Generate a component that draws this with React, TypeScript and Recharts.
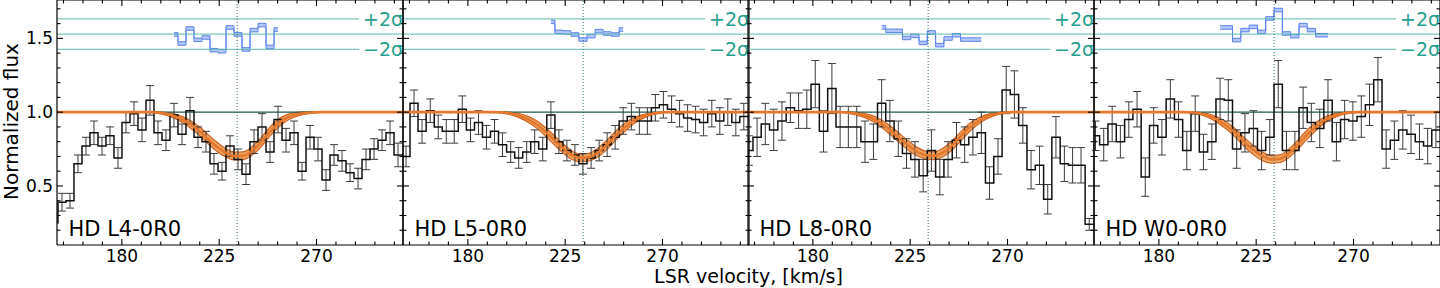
import React from 'react';
import { ComposedChart, Line, Area, XAxis, YAxis, ReferenceLine, ErrorBar } from 'recharts';

const FONT = '"DejaVu Sans", sans-serif';
const PLOT_W = 346;
const X_DOMAIN: [number, number] = [150, 310];
const Y_DOMAIN: [number, number] = [0.1, 1.76];

const X_TICKS = [153, 162, 171, 180, 189, 198, 207, 216, 225, 234, 243, 252, 261, 270, 279, 288, 297, 306];
const MAJOR_X = [180, 225, 270];
const Y_TICKS = [0.2, 0.3, 0.4, 0.5, 0.6, 0.7, 0.8, 0.9, 1.0, 1.1, 1.2, 1.3, 1.4, 1.5, 1.6, 1.7];
const MAJOR_Y = [0.5, 1.0, 1.5];

const LINE_CENTER = 233.3;
const CONT_V = [145, 315];
const SIGMA_MID = 1.529;
const SIGMA_HI = 1.632;
const SIGMA_LO = 1.426;
const SIGMA_END = 289.7;
const RES_HALF = 0.012;

// histogram bins (km/s), flux and 1-sigma errors, one set per sightline
const VEL_L4 = [148.6, 152.3, 156.0, 159.7, 163.4, 167.1, 170.8, 174.5, 178.2, 181.9, 185.6, 189.3, 193.0, 196.7, 200.4,
  204.1, 207.8, 211.5, 215.2, 218.9, 222.6, 226.3, 230.0, 233.7, 237.4, 241.1, 244.8, 248.5, 252.2, 255.9,
  259.6, 263.3, 267.0, 270.7, 274.4, 278.1, 281.8, 285.5, 289.2, 292.9, 296.6, 300.3, 304.0, 307.7, 311.4];
const FLUX_L4 = [0.25, 0.39, 0.40, 0.65, 0.77, 0.86, 0.77, 0.84, 0.69, 0.93, 0.99, 0.88, 1.08, 0.86, 0.81,
  0.98, 0.85, 1.01, 0.83, 0.80, 0.65, 0.60, 0.77, 0.68, 0.58, 0.80, 0.90, 0.73, 0.95, 0.81,
  0.86, 0.60, 0.83, 0.75, 0.54, 0.71, 0.67, 0.59, 0.55, 0.68, 0.75, 0.81, 0.86, 0.71, 0.71];
const ERR_L4 = [null, 0.06, 0.05, 0.06, 0.06, 0.08, 0.06, 0.06, 0.07, 0.07, 0.08, 0.08, 0.10, 0.08, 0.07,
  0.08, 0.07, 0.09, 0.07, 0.07, 0.07, 0.06, 0.07, 0.07, 0.07, 0.08, 0.09, 0.07, 0.09, 0.08,
  0.08, 0.06, 0.08, 0.08, 0.07, 0.07, 0.07, 0.06, 0.07, 0.07, 0.07, 0.07, 0.08, 0.08, null];

const VEL_L5 = [147.7, 151.4, 155.1, 158.8, 162.6, 166.3, 170.0, 173.7, 177.4, 181.2, 184.9, 188.6, 192.3, 196.0, 199.8,
  203.5, 207.2, 210.9, 214.6, 218.4, 222.1, 225.8, 229.5, 233.2, 237.0, 240.7, 244.4, 248.1, 251.8, 255.6,
  259.3, 263.0, 266.7, 270.4, 274.2, 277.9, 281.6, 285.3, 289.0, 292.8, 296.5, 300.2, 303.9, 307.6, 311.3];
const FLUX_L5 = [0.70, 0.70, 1.06, 0.87, 1.01, 0.90, 0.87, 0.87, 1.02, 0.88, 0.93, 0.83, 0.87, 0.78, 0.73,
  0.69, 0.73, 0.80, 0.75, 0.98, 0.80, 0.74, 0.71, 0.65, 0.69, 0.74, 0.78, 0.83, 0.94, 0.97,
  0.94, 0.94, 1.03, 1.05, 1.02, 0.99, 0.96, 0.95, 0.93, 0.99, 0.94, 1.00, 0.93, 0.97, 0.97];
const ERR_L5 = [null, 0.07, 0.09, 0.08, 0.08, 0.08, 0.08, 0.08, 0.09, 0.08, 0.08, 0.08, 0.08, 0.08, 0.07,
  0.07, 0.07, 0.08, 0.08, 0.09, 0.08, 0.07, 0.07, 0.07, 0.07, 0.07, 0.08, 0.08, 0.09, 0.09,
  0.09, 0.09, 0.09, 0.09, 0.09, 0.09, 0.09, 0.09, 0.09, 0.09, 0.09, 0.09, 0.09, 0.09, null];

const VEL_L8 = [146.5, 150.4, 154.2, 158.0, 161.9, 165.7, 169.6, 173.4, 177.2, 181.1, 184.9, 188.8, 192.6, 196.4, 200.3,
  204.1, 208.0, 211.8, 215.6, 219.5, 223.3, 227.2, 231.0, 234.8, 238.7, 242.5, 246.4, 250.2, 254.0, 257.9,
  261.7, 265.6, 269.4, 273.2, 277.1, 280.9, 284.8, 288.6, 292.4, 296.3, 300.1, 304.0, 307.8, 311.6];
const FLUX_L8 = [0.74, 0.74, 0.83, 0.92, 0.88, 0.94, 1.03, 1.01, 1.02, 1.19, 0.87, 1.16, 0.90, 0.90, 0.90,
  0.80, 0.80, 1.06, 0.94, 0.82, 0.72, 0.68, 0.57, 0.74, 0.56, 0.68, 0.81, 0.78, 0.83, 0.86,
  0.52, 0.70, 1.15, 1.12, 0.91, 0.61, 0.64, 0.41, 0.83, 0.65, 0.64, 0.64, 0.24, 0.24];
const ERR_L8 = [null, 0.10, 0.13, 0.14, 0.14, 0.13, 0.10, 0.12, 0.13, 0.16, 0.14, 0.17, 0.14, 0.14, 0.14,
  0.14, 0.12, 0.16, 0.14, 0.12, 0.10, 0.12, 0.11, 0.14, 0.12, 0.12, 0.12, 0.12, 0.12, 0.14,
  0.11, 0.12, 0.16, 0.16, 0.12, 0.13, 0.13, 0.10, 0.14, 0.12, 0.12, 0.12, 0.04, null];

const VEL_W0 = [146.9, 150.7, 154.5, 158.4, 162.2, 166.1, 169.9, 173.7, 177.6, 181.4, 185.3, 189.1, 192.9, 196.8, 200.6,
  204.5, 208.3, 212.1, 216.0, 219.8, 223.7, 227.5, 231.3, 235.2, 239.0, 242.9, 246.7, 250.5, 254.4, 258.2,
  262.1, 265.9, 269.7, 273.6, 277.4, 281.3, 285.1, 288.9, 292.8, 296.6, 300.5, 304.3, 308.1, 311.9];
const FLUX_W0 = [0.84, 0.84, 0.78, 0.92, 0.80, 0.95, 1.02, 0.56, 0.91, 0.83, 1.09, 0.95, 0.74, 0.99, 0.73,
  0.80, 1.09, 1.08, 0.75, 0.86, 0.89, 0.74, 0.83, 1.19, 0.74, 0.74, 1.03, 0.93, 0.89, 1.08,
  0.80, 0.95, 0.94, 0.97, 1.05, 1.22, 0.75, 0.81, 0.88, 0.85, 0.80, 0.77, 0.88, 0.88];
const ERR_W0 = [null, 0.10, 0.11, 0.12, 0.11, 0.12, 0.12, 0.13, 0.12, 0.12, 0.13, 0.12, 0.13, 0.12, 0.12,
  0.12, 0.14, 0.14, 0.13, 0.13, 0.12, 0.13, 0.12, 0.16, 0.13, 0.13, 0.14, 0.13, 0.13, 0.14,
  0.13, 0.13, 0.13, 0.14, 0.14, 0.15, 0.13, 0.13, 0.13, 0.13, 0.12, 0.12, 0.12, null];

// absorption model and its uncertainty band
const MODEL_V = [150, 192, 196, 200, 204, 208, 212, 216, 220, 224, 228, 232, 236, 240, 244, 248, 252, 256, 260, 264, 268, 272, 276, 310];
const MODEL_L4 = [1, 1, 0.998, 0.99, 0.975, 0.95, 0.915, 0.87, 0.815, 0.765, 0.725, 0.703, 0.705, 0.735, 0.79, 0.86, 0.92, 0.96, 0.982, 0.993, 0.998, 1, 1, 1];
const MODEL_L5 = [1, 1, 0.998, 0.99, 0.975, 0.95, 0.915, 0.865, 0.81, 0.755, 0.71, 0.69, 0.695, 0.725, 0.775, 0.835, 0.89, 0.935, 0.965, 0.985, 0.995, 1, 1, 1];
const MODEL_L8 = [1, 1, 0.998, 0.99, 0.977, 0.955, 0.92, 0.875, 0.825, 0.775, 0.735, 0.71, 0.705, 0.725, 0.77, 0.83, 0.89, 0.935, 0.967, 0.986, 0.995, 1, 1, 1];
const MODEL_W0 = [1, 1, 0.997, 0.988, 0.97, 0.94, 0.9, 0.85, 0.79, 0.74, 0.7, 0.68, 0.685, 0.72, 0.775, 0.84, 0.895, 0.94, 0.97, 0.988, 0.997, 1, 1, 1];
const BAND = [0, 0, 0.004, 0.009, 0.014, 0.02, 0.025, 0.029, 0.031, 0.031, 0.029, 0.026, 0.026, 0.029, 0.031, 0.031, 0.028, 0.022, 0.015, 0.009, 0.004, 0.001, 0, 0];

// residual strip above the spectrum
const RES_V_L4 = [204.1, 207.8, 211.5, 215.2, 218.9, 222.6, 226.3, 230.0, 233.7, 237.4, 241.1, 244.8, 248.5, 252.2];
const RES_L4 = [1.527, 1.465, 1.567, 1.49, 1.506, 1.42, 1.413, 1.574, 1.527, 1.425, 1.556, 1.59, 1.442, 1.56];
const RES_V_L5 = [218.4, 222.1, 225.8, 229.5, 233.2, 237.0, 240.7, 244.4, 248.1, 251.8];
const RES_L5 = [1.612, 1.544, 1.54, 1.526, 1.492, 1.515, 1.549, 1.533, 1.526, 1.56];
const RES_V_L8 = [211.8, 215.6, 219.5, 223.3, 227.2, 231.0, 234.8, 238.7, 242.5, 246.4, 250.2, 254.0, 257.9];
const RES_L8 = [1.574, 1.551, 1.551, 1.503, 1.517, 1.469, 1.54, 1.454, 1.499, 1.521, 1.492, 1.492, 1.492];
const RES_V_W0 = [208.3, 212.1, 216.0, 219.8, 223.7, 227.5, 231.3, 235.2, 239.0, 242.9, 246.7, 250.5, 254.4, 258.2];
const RES_W0 = [1.574, 1.574, 1.488, 1.556, 1.578, 1.544, 1.635, 1.692, 1.533, 1.515, 1.59, 1.556, 1.521, 1.521];

const PANELS = [
  { name: 'HD L4-0R0', left: 57, vel: VEL_L4, flux: FLUX_L4, err: ERR_L4, model: MODEL_L4, resV: RES_V_L4, res: RES_L4 },
  { name: 'HD L5-0R0', left: 403, vel: VEL_L5, flux: FLUX_L5, err: ERR_L5, model: MODEL_L5, resV: RES_V_L5, res: RES_L5 },
  { name: 'HD L8-0R0', left: 748, vel: VEL_L8, flux: FLUX_L8, err: ERR_L8, model: MODEL_L8, resV: RES_V_L8, res: RES_L8 },
  { name: 'HD W0-0R0', left: 1094, vel: VEL_W0, flux: FLUX_W0, err: ERR_W0, model: MODEL_W0, resV: RES_V_W0, res: RES_W0 },
];

const TEAL_LINE = '#5cb8aa';
const TEAL_TEXT = '#26a08e';
const ORANGE = '#e5782c';

// inward ticks on bottom+top for an x value, drawn on a vertical reference line
function XTick({ s, v }: { s: any; v: number }) {
  const major = MAJOR_X.includes(v);
  const len = major ? 6 : 3.5;
  const bottom = Math.max(s.y1, s.y2);
  const top = Math.min(s.y1, s.y2);
  return (
    <g>
      <line x1={s.x1} x2={s.x1} y1={bottom} y2={bottom - len} stroke="#000" strokeWidth={1.1} />
      <line x1={s.x1} x2={s.x1} y1={top} y2={top + len} stroke="#000" strokeWidth={1.1} />
      {major && (
        <text x={s.x1} y={bottom + 16.5} textAnchor="middle" fontSize={17} fontFamily={FONT} fill="#000">
          {v}
        </text>
      )}
    </g>
  );
}

// inward ticks on left+right for a y value
function YTick({ s, v, labels }: { s: any; v: number; labels: boolean }) {
  const major = MAJOR_Y.includes(v);
  const len = major ? 6 : 3.5;
  const left = Math.min(s.x1, s.x2);
  const right = Math.max(s.x1, s.x2);
  return (
    <g>
      <line x1={left} x2={left + len} y1={s.y1} y2={s.y1} stroke="#000" strokeWidth={1.1} />
      <line x1={right} x2={right - len} y1={s.y1} y2={s.y1} stroke="#000" strokeWidth={1.1} />
      {labels && major && (
        <text x={left - 4} y={s.y1} dy="0.36em" textAnchor="end" fontSize={17} fontFamily={FONT} fill="#000">
          {v.toFixed(1)}
        </text>
      )}
    </g>
  );
}

function Panel({ p, labels }: { p: (typeof PANELS)[number]; labels: boolean }) {
  const ml = labels ? 57 : 2;
  const hist = p.vel.map((v, i) => ({ v, f: p.flux[i], e: p.err[i] }));
  const fit = MODEL_V.map((v, i) => ({ v, m: p.model[i], band: [p.model[i] - BAND[i], p.model[i] + BAND[i]] }));
  const resid = p.resV.map((v, i) => ({ v, r: [p.res[i] - RES_HALF, p.res[i] + RES_HALF] }));
  const cont = CONT_V.map((v) => ({ v, c: 1 }));

  return (
    <div style={{ position: 'absolute', left: p.left - ml, top: 0 }}>
      <ComposedChart width={ml + PLOT_W + 2} height={288} margin={{ top: 0, right: 2, bottom: 43, left: ml }}>
        <XAxis hide dataKey="v" type="number" domain={X_DOMAIN} allowDataOverflow />
        <YAxis hide type="number" domain={Y_DOMAIN} allowDataOverflow />

        <ReferenceLine y={SIGMA_MID} stroke={TEAL_LINE} strokeWidth={1} />
        <ReferenceLine segment={[{ x: 150, y: SIGMA_HI }, { x: SIGMA_END, y: SIGMA_HI }]} stroke={TEAL_LINE} strokeWidth={1}
          label={{ value: '+2σ', position: 'right', offset: 4, fill: TEAL_TEXT, fontSize: 19, fontFamily: FONT }} />
        <ReferenceLine segment={[{ x: 150, y: SIGMA_LO }, { x: SIGMA_END, y: SIGMA_LO }]} stroke={TEAL_LINE} strokeWidth={1}
          label={{ value: '\u22122σ', position: 'right', offset: 4, fill: TEAL_TEXT, fontSize: 19, fontFamily: FONT }} />
        <ReferenceLine x={LINE_CENTER} stroke="#2f6f60" strokeWidth={1} strokeDasharray="1 2" />

        <Line data={cont} dataKey="c" stroke="#1d5a4c" strokeWidth={1.2} dot={false} activeDot={false} isAnimationActive={false} />
        <Line data={hist} dataKey="f" type="step" stroke="#111" strokeWidth={1.5} dot={false} activeDot={false} isAnimationActive={false}>
          <ErrorBar dataKey="e" width={4} stroke="#3c3c3c" strokeWidth={1} direction="y" />
        </Line>
        <Area data={fit} dataKey="band" type="monotone" stroke="#cf6420" strokeWidth={1.2} fill="#e6903f" fillOpacity={0.8}
          dot={false} activeDot={false} isAnimationActive={false} />
        <Line data={fit} dataKey="m" type="monotone" stroke={ORANGE} strokeWidth={2.6} dot={false} activeDot={false} isAnimationActive={false} />
        <Area data={resid} dataKey="r" type="step" stroke="#5c82ee" strokeWidth={1} fill="#b4c6f8" fillOpacity={1}
          dot={false} activeDot={false} isAnimationActive={false} />

        {X_TICKS.map((v) => (
          <ReferenceLine key={`x${v}`} x={v} shape={(s: any) => <XTick s={s} v={v} />} />
        ))}
        {Y_TICKS.map((v) => (
          <ReferenceLine key={`y${v}`} y={v} shape={(s: any) => <YTick s={s} v={v} labels={labels} />} />
        ))}
        <ReferenceLine x={X_DOMAIN[0]} stroke="#000" strokeWidth={1.2} />
        <ReferenceLine x={X_DOMAIN[1]} stroke="#000" strokeWidth={1.2} />
        <ReferenceLine y={Y_DOMAIN[0]} stroke="#000" strokeWidth={1.2} />
        <ReferenceLine y={Y_DOMAIN[1]} stroke="#000" strokeWidth={1.2} />
      </ComposedChart>
    </div>
  );
}

export default function App() {
  return (
    <div style={{ position: 'absolute', left: 0, top: 0, width: 1440, height: 288, overflow: 'hidden', background: '#fff' }}>
      {PANELS.map((p, i) => (
        <Panel key={p.name} p={p} labels={i === 0} />
      ))}
      <svg width={1440} height={288} style={{ position: 'absolute', left: 0, top: 0, pointerEvents: 'none' }}>
        <text transform="translate(17.5,121.5) rotate(-90)" textAnchor="middle" fontSize={20} fontFamily={FONT} fill="#000">
          Normalized flux
        </text>
        <text x={748.5} y={283.3} textAnchor="middle" fontSize={19} fontFamily={FONT} fill="#000">
          LSR velocity, [km/s]
        </text>
        {PANELS.map((p) => (
          <text key={p.name} x={p.left + 11.5} y={235.5} fontSize={21} fontFamily={FONT} fill="#000">
            {p.name}
          </text>
        ))}
      </svg>
    </div>
  );
}
